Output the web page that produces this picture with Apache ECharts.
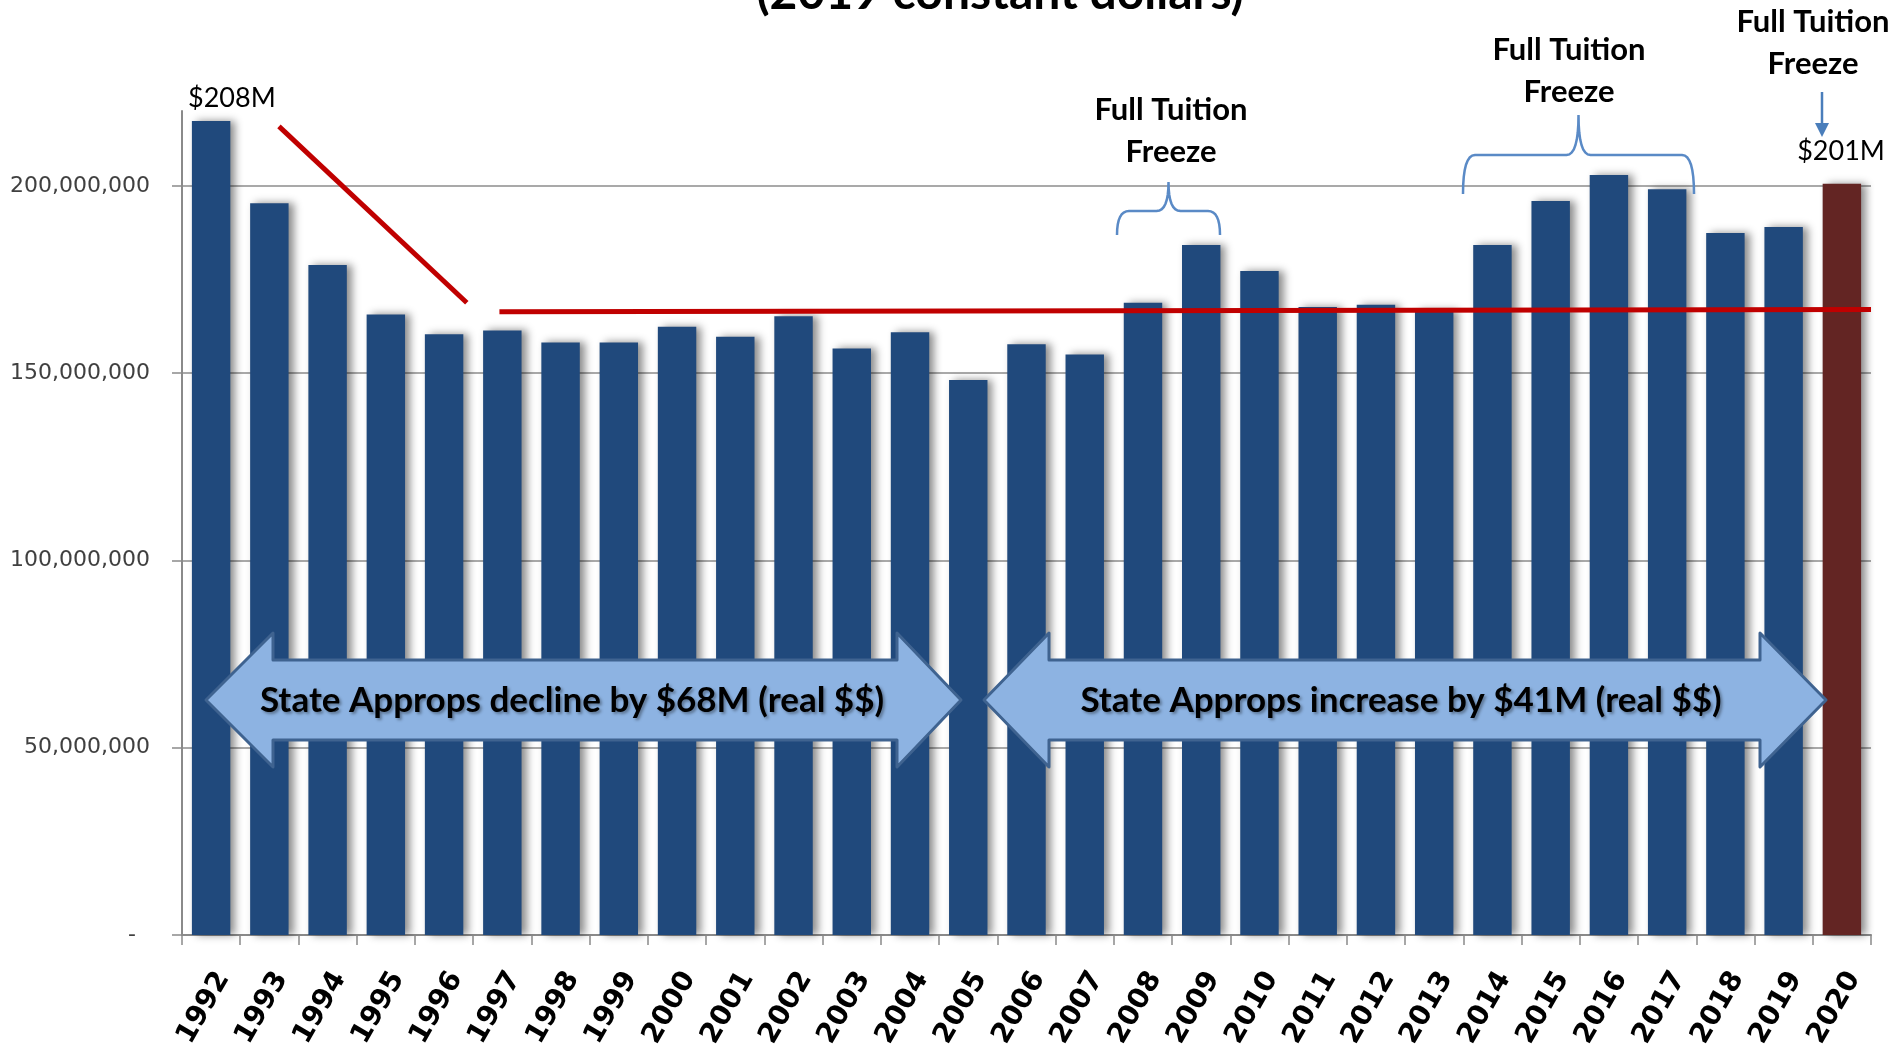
<!DOCTYPE html>
<html>
<head>
<meta charset="utf-8">
<script src="https://cdn.jsdelivr.net/npm/echarts@6/dist/echarts.min.js"></script>
<style>
  html, body { margin: 0; padding: 0; background: #fff; }
  #chart { width: 1901px; height: 1052px; }
</style>
</head>
<body>
<div id="chart"></div>
<script>
// fiscal years
var years = ['1992', '1993', '1994', '1995', '1996', '1997', '1998', '1999', '2000', '2001',
  '2002', '2003', '2004', '2005', '2006', '2007', '2008', '2009', '2010', '2011',
  '2012', '2013', '2014', '2015', '2016', '2017', '2018', '2019', '2020']

// state appropriations, millions of 2019 dollars
var appropsM = [217.3, 195.4, 178.9, 165.7, 160.4, 161.4, 158.2, 158.2, 162.4, 159.7,
  165.2, 156.6, 160.9, 148.2, 157.7, 155.0, 168.8, 184.2, 177.3, 167.7,
  168.3, 166.8, 184.2, 196.0, 202.9, 199.1, 187.4, 189.0, 200.6]

// red trend lines: [position in category units, millions]
var declineLine = [[1.665, 215.9], [4.89, 168.8]]
var flatLine = [[5.45, 166.4], [29, 167.0]]

var yTicks = [0, 50000000, 100000000, 150000000, 200000000]

var chart = echarts.init(document.getElementById('chart'))

var barData = appropsM.map(function (v, i) {
  var item = { value: v * 1e6 }
  if (i === appropsM.length - 1) {
    item.itemStyle = { color: '#632523' }
  }
  return item
})

function toSeries(pts) {
  return pts.map(function (p) { return [p[0], p[1] * 1e6] })
}

// quadratic curve sampled into points
function quad(p0, c, p1) {
  var out = []
  for (var t = 0; t <= 1.0001; t += 0.125) {
    var a = (1 - t) * (1 - t), b = 2 * (1 - t) * t, d = t * t
    out.push([a * p0[0] + b * c[0] + d * p1[0], a * p0[1] + b * c[1] + d * p1[1]])
  }
  return out
}

// curly brace: ends at yb, horizontal at ym, cusp at yt
function brace(x0, x1, yb, ym, yt) {
  var xc = (x0 + x1) / 2
  var r = 12
  return [].concat(
    quad([x0, yb], [x0, ym], [x0 + r, ym]),
    quad([xc - r, ym], [xc, ym], [xc, yt]),
    quad([xc, yt], [xc, ym], [xc + r, ym]),
    quad([x1 - r, ym], [x1, ym], [x1, yb])
  )
}

function bigArrow(x0, x1, hx0, hx1, cy) {
  return [[x0, cy], [hx0, cy - 67], [hx0, cy - 40], [hx1, cy - 40], [hx1, cy - 67], [x1, cy],
    [hx1, cy + 67], [hx1, cy + 40], [hx0, cy + 40], [hx0, cy + 67]]
}

var boldFont = 'bold 31px Lato, "Open Sans", sans-serif'
var labelFont = '27px Lato, "Open Sans", sans-serif'
var arrowFont = 'bold 35px Lato, "Open Sans", sans-serif'

chart.setOption({
  animation: false,
  backgroundColor: '#ffffff',
  grid: { left: 182, right: 30, top: 111, bottom: 117 },
  xAxis: [{
    type: 'category',
    data: years,
    boundaryGap: true,
    axisLine: { lineStyle: { color: '#8a8a8a', width: 2 } },
    axisTick: { show: true, length: 10, lineStyle: { color: '#8a8a8a', width: 1.5 } },
    axisLabel: {
      rotate: 60,
      margin: 32,
      verticalAlign: 'top',
      color: '#000',
      fontFamily: '"DejaVu Sans", Verdana, sans-serif',
      fontWeight: 'bold',
      fontSize: 28
    }
  }, {
    type: 'value',
    min: 0,
    max: 29,
    show: false
  }],
  yAxis: {
    type: 'value',
    min: 0,
    max: 220000000,
    interval: 50000000,
    axisLine: { show: true, lineStyle: { color: '#8a8a8a', width: 2 } },
    axisTick: { show: true, length: 10, customValues: yTicks, lineStyle: { color: '#8a8a8a', width: 1.5 } },
    splitLine: { show: true, lineStyle: { color: '#8c8c8c', width: 1.5 } },
    axisLabel: {
      margin: 32,
      color: '#404040',
      fontFamily: '"DejaVu Sans", Verdana, sans-serif',
      fontSize: 22,
      customValues: yTicks,
      formatter: function (v) {
        return v === 0 ? '-  ' : v.toLocaleString('en-US')
      }
    }
  },
  series: [{
    type: 'bar',
    data: barData,
    barWidth: '66%',
    itemStyle: {
      color: '#20497c',
      shadowColor: 'rgba(0,0,0,0.45)',
      shadowBlur: 8,
      shadowOffsetX: 5
    },
    z: 2
  }, {
    type: 'line',
    xAxisIndex: 1,
    data: toSeries(declineLine),
    showSymbol: false,
    lineStyle: { color: '#c00000', width: 5 },
    z: 5
  }, {
    type: 'line',
    xAxisIndex: 1,
    data: toSeries(flatLine),
    showSymbol: false,
    lineStyle: { color: '#c00000', width: 5 },
    z: 5
  }],
  graphic: [
    {
      type: 'text', z: 100,
      style: { text: '(2019 constant dollars)', x: 1000, y: -6, align: 'center', verticalAlign: 'middle',
        font: 'bold 48px Lato, "Open Sans", sans-serif', fill: '#000' }
    },
    {
      type: 'text', z: 100,
      style: { text: '$208M', x: 188, y: 98, align: 'left', verticalAlign: 'middle', font: labelFont, fill: '#000' }
    },
    {
      type: 'text', z: 100,
      style: { text: '$201M', x: 1841, y: 151, align: 'center', verticalAlign: 'middle', font: labelFont, fill: '#000' }
    },
    {
      type: 'text', z: 100,
      style: { text: 'Full Tuition\nFreeze', x: 1171, y: 131, align: 'center', verticalAlign: 'middle',
        lineHeight: 42, font: boldFont, fill: '#000' }
    },
    {
      type: 'text', z: 100,
      style: { text: 'Full Tuition\nFreeze', x: 1569, y: 71, align: 'center', verticalAlign: 'middle',
        lineHeight: 42, font: boldFont, fill: '#000' }
    },
    {
      type: 'text', z: 100,
      style: { text: 'Full Tuition\nFreeze', x: 1813, y: 43, align: 'center', verticalAlign: 'middle',
        lineHeight: 42, font: boldFont, fill: '#000' }
    },
    {
      type: 'polyline', z: 100,
      shape: { points: brace(1117, 1220, 235, 211, 182) },
      style: { fill: null, stroke: '#5a8ac6', lineWidth: 2.5 }
    },
    {
      type: 'polyline', z: 100,
      shape: { points: brace(1463, 1694, 194, 155, 115) },
      style: { fill: null, stroke: '#5a8ac6', lineWidth: 2.5 }
    },
    {
      type: 'line', z: 100,
      shape: { x1: 1822, y1: 92, x2: 1822, y2: 126 },
      style: { stroke: '#4a7ebb', lineWidth: 2.5 }
    },
    {
      type: 'polygon', z: 100,
      shape: { points: [[1815, 123], [1829, 123], [1822, 137]] },
      style: { fill: '#4a7ebb' }
    },
    {
      type: 'polygon', z: 100,
      shape: { points: bigArrow(206, 961, 273, 897, 700) },
      style: { fill: '#8db3e2', stroke: '#3f6390', lineWidth: 3, lineJoin: 'round' }
    },
    {
      type: 'polygon', z: 100,
      shape: { points: bigArrow(984, 1826, 1049, 1760, 700) },
      style: { fill: '#8db3e2', stroke: '#3f6390', lineWidth: 3, lineJoin: 'round' }
    },
    {
      type: 'text', z: 101,
      style: { text: 'State Approps decline by $68M (real $$)', x: 572, y: 701, align: 'center', verticalAlign: 'middle',
        font: arrowFont, fill: '#000',
        textShadowColor: 'rgba(0,0,0,0.35)', textShadowBlur: 3, textShadowOffsetX: 2, textShadowOffsetY: 2 }
    },
    {
      type: 'text', z: 101,
      style: { text: 'State Approps increase by $41M (real $$)', x: 1401, y: 701, align: 'center', verticalAlign: 'middle',
        font: arrowFont, fill: '#000',
        textShadowColor: 'rgba(0,0,0,0.35)', textShadowBlur: 3, textShadowOffsetX: 2, textShadowOffsetY: 2 }
    }
  ]
})
</script>
</body>
</html>
